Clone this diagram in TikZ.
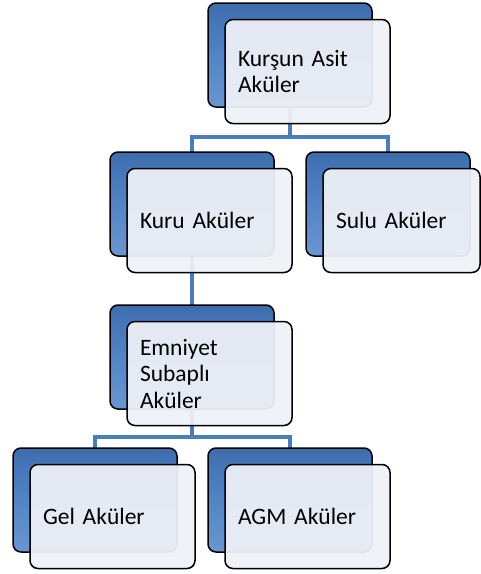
\documentclass[tikz,border=0pt]{standalone}
\usepackage{fontspec}
\setmainfont{Carlito}
\usepackage{tikz}
\usetikzlibrary{backgrounds}
\definecolor{akublue}{HTML}{5285C6}
\definecolor{akudark}{HTML}{3E6DAE}
\definecolor{akulight}{HTML}{6A96D0}
\definecolor{akufront}{HTML}{EEF1F7}
\definecolor{akuline}{HTML}{4A7EBB}

\begin{document}
\begin{tikzpicture}[x=1pt,y=-1pt,
   back/.style={draw=black,line width=1.5pt,rounded corners=8pt,
      top color=akudark,bottom color=akulight,middle color=akublue,
      minimum width=164pt,minimum height=104pt,inner sep=0pt},
   front/.style={draw=black,line width=1.5pt,rounded corners=8pt,
      fill=akufront,fill opacity=0.94,text opacity=1,
      inner xsep=13pt,inner ysep=0pt,text width=139pt,
      minimum height=104pt,align=left,
      font=\fontsize{23.5}{26.5}\selectfont},
   conn/.style={draw=akuline,line width=4pt}]
   \useasboundingbox (0,0) rectangle (481,574);

   % back boxes
   \node[back] (top)  at (290,55)  {};
   \node[back] (kuru) at (192,204) {};
   \node[back] (sulu) at (388,204) {};
   \node[back] (emn)  at (192,357) {};
   \node[back] (gel)  at (95,500)  {};
   \node[back] (agm)  at (290,500) {};

   % front boxes with the texts
   \node[front] (topf)  at ([shift={(17.5,16.5)}]top.center)  {Kurşun Asit\\Aküler};
   \node[front] (kuruf) at ([shift={(17.5,16.5)}]kuru.center) {Kuru Aküler};
   \node[front,text width=131pt] (suluf) at ([shift={(13.5,16.5)}]sulu.center) {Sulu Aküler};
   \node[front] (emnf)  at ([shift={(17.5,16.5)}]emn.center)  {Emniyet\\Subaplı\\Aküler};
   \node[front] (gelf)  at ([shift={(17.5,16.5)}]gel.center)  {Gel Aküler};
   \node[front] (agmf)  at ([shift={(17.5,16.5)}]agm.center)  {AGM Aküler};

   % connectors, behind the boxes
   \coordinate (bus1) at (290,137);
   \coordinate (bus2) at (192,437);
   \begin{scope}[on background layer]
   \draw[conn] (top.center) -- (bus1) -| (kuru.center);
   \draw[conn] (bus1) -| (sulu.center);
   \draw[conn] (kuru.center) -- (emn.center);
   \draw[conn] (emn.center) -- (bus2) -| (gel.center);
   \draw[conn] (bus2) -| (agm.center);
   \end{scope}
\end{tikzpicture}
\end{document}
